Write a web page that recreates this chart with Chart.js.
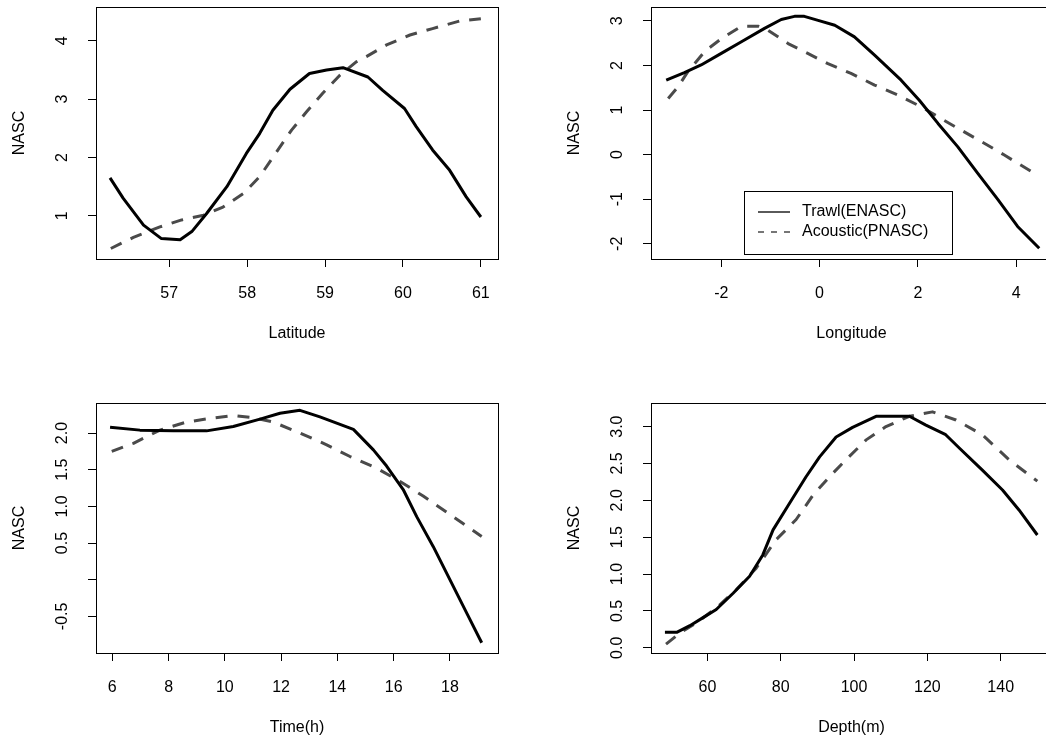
<!DOCTYPE html>
<html>
<head>
<meta charset="utf-8">
<script src="https://cdn.jsdelivr.net/npm/chart.js@4/dist/chart.umd.min.js"></script>
<style>
  html, body { margin:0; padding:0; background:#fff; overflow:hidden; }
  #wrap { position:relative; width:1046px; height:742px; overflow:hidden; }
  canvas { position:absolute; }
</style>
</head>
<body>
<div id="wrap">
  <canvas id="p1" width="523" height="371" style="left:0;top:0"></canvas>
  <canvas id="p2" width="555" height="371" style="left:523px;top:0"></canvas>
  <canvas id="p3" width="523" height="371" style="left:0;top:371px"></canvas>
  <canvas id="p4" width="555" height="371" style="left:523px;top:371px"></canvas>
</div>
<script>
/* ---- values ---- */
const seriesNames = ['Trawl(ENASC)', 'Acoustic(PNASC)'];

// Latitude panel
const latTrawlX = [56.24,56.41,56.67,56.90,57.14,57.29,57.48,57.74,57.99,58.16,58.33,58.55,58.80,59.02,59.23,59.55,59.74,60.02,60.17,60.38,60.60,60.81,61.00];
const latTrawlY = [1.65,1.30,0.84,0.61,0.59,0.73,1.04,1.50,2.07,2.41,2.81,3.17,3.44,3.50,3.54,3.38,3.15,2.84,2.53,2.13,1.78,1.33,0.98];
const latAcousX = [56.25,56.54,56.88,57.16,57.44,57.69,57.95,58.16,58.38,58.57,58.76,58.97,59.19,59.40,59.53,59.79,60.09,60.38,60.73,61.00];
const latAcousY = [0.44,0.63,0.81,0.93,1.01,1.15,1.38,1.67,2.10,2.47,2.78,3.10,3.41,3.64,3.73,3.93,4.10,4.21,4.34,4.38];
const latTicks = [57,58,59,60,61];
const latYTicks = [1,2,3,4];
const latYLabels = ['1','2','3','4'];

// Longitude panel
const lonTrawlX = [-3.12,-2.75,-2.41,-2.00,-1.59,-1.12,-0.78,-0.51,-0.31,-0.03,0.31,0.71,1.12,1.66,2.03,2.41,2.81,3.22,3.63,4.03,4.47];
const lonTrawlY = [1.67,1.84,2.01,2.27,2.53,2.83,3.03,3.10,3.10,3.01,2.90,2.64,2.23,1.67,1.22,0.70,0.18,-0.42,-1.01,-1.61,-2.10];
const lonAcousX = [-3.08,-2.88,-2.68,-2.34,-2.00,-1.59,-1.25,-1.05,-0.64,-0.24,0.17,0.64,1.12,1.59,2.07,2.47,2.88,3.36,3.76,4.37];
const lonAcousY = [1.26,1.52,1.86,2.31,2.60,2.88,2.88,2.79,2.49,2.27,2.04,1.82,1.56,1.34,1.07,0.81,0.55,0.25,-0.01,-0.42];
const lonTicks = [-2,0,2,4];
const lonYTicks = [-2,-1,0,1,2,3];
const lonYLabels = ['-2','-1','0','1','2','3'];

// Time panel
const timeTrawlX = [5.92,6.98,8.17,9.35,10.30,11.25,11.96,12.67,13.38,14.57,15.28,15.75,16.34,16.82,17.41,18.00,18.59,19.13];
const timeTrawlY = [2.08,2.04,2.03,2.03,2.09,2.19,2.27,2.31,2.22,2.05,1.77,1.55,1.23,0.86,0.45,0.00,-0.45,-0.86];
const timeAcousX = [5.98,6.75,7.69,8.64,9.47,10.30,11.01,11.72,12.67,13.62,14.45,15.40,16.23,17.05,18.00,19.13];
const timeAcousY = [1.75,1.86,2.04,2.15,2.20,2.24,2.21,2.15,2.00,1.84,1.68,1.52,1.34,1.14,0.89,0.59];
const timeTicks = [6,8,10,12,14,16,18];
const timeYTicks = [-0.5,0,0.5,1,1.5,2];
const timeYLabels = ['-0.5','','0.5','1.0','1.5','2.0'];

// Depth panel
const depthTrawlX = [48.4,51.6,55.2,58.8,62.4,67.0,71.5,75.1,77.9,82.4,86.9,90.6,95.1,99.6,106.0,115.1,119.6,125.0,128.7,135.0,140.5,145.0,150.0];
const depthTrawlY = [0.21,0.21,0.30,0.41,0.52,0.74,0.97,1.26,1.60,1.96,2.32,2.59,2.86,2.99,3.14,3.14,3.02,2.89,2.71,2.41,2.14,1.87,1.53];
const depthAcousX = [48.7,52.5,57.0,62.4,67.9,73.3,78.8,84.2,88.8,93.3,97.8,103.3,108.7,115.1,121.4,127.8,135.0,142.3,150.0];
const depthAcousY = [0.05,0.20,0.34,0.54,0.79,1.08,1.47,1.74,2.07,2.32,2.55,2.82,3.00,3.14,3.20,3.09,2.89,2.55,2.26];
const depthTicks = [60,80,100,120,140];
const depthYTicks = [0,0.5,1,1.5,2,2.5,3];
const depthYLabels = ['0.0','0.5','1.0','1.5','2.0','2.5','3.0'];

/* ---- drawing ---- */
const FAMILY = "'Liberation Sans', Arial, sans-serif";
const font = { family: FAMILY, size: 16 };
const mctx = document.createElement('canvas').getContext('2d');
mctx.font = '16px ' + FAMILY;
const measure = t => mctx.measureText(t).width;
const pts = (xs, ys) => xs.map((x, i) => ({ x, y: ys[i] }));

// box round the plot region, like R's bty="o"
const frame = {
  id: 'frame',
  afterDatasetsDraw(chart) {
    const a = chart.chartArea, c = chart.ctx;
    c.save();
    c.strokeStyle = '#000'; c.lineWidth = 1;
    c.strokeRect(Math.round(a.left) + 0.5, Math.round(a.top) + 0.5, Math.round(a.right - a.left), Math.round(a.bottom - a.top));
    c.restore();
  }
};

// legend inside the longitude panel
const rLegend = {
  id: 'rLegend',
  afterDraw(chart) {
    const a = chart.chartArea, c = chart.ctx;
    const w = 208, h = 63, L = Math.round(a.left) + 93, T = Math.round(a.bottom) - 68;
    c.save();
    c.fillStyle = '#fff'; c.fillRect(L, T, w, h);
    c.strokeStyle = '#000'; c.lineWidth = 1; c.strokeRect(L + 0.5, T + 0.5, w, h);
    chart.data.datasets.forEach((d, i) => {
      const y = T + 21 + i * 20;
      c.beginPath();
      c.setLineDash(i ? [6, 7] : []);
      c.strokeStyle = d.borderColor; c.lineWidth = 1.3;
      c.moveTo(L + 14, y); c.lineTo(L + 46, y); c.stroke();
      c.setLineDash([]);
      c.fillStyle = '#000'; c.font = '16px ' + FAMILY; c.textBaseline = 'middle';
      c.fillText(d.label, L + 58, y);
    });
    c.restore();
  }
};

function panel(id, o) {
  const widest = Math.max(...o.yLabels.map(measure));
  return new Chart(document.getElementById(id), {
    type: 'line',
    data: { datasets: [
      { label: seriesNames[0], data: pts(o.tx, o.ty), borderColor: '#000', borderWidth: 3,
        pointRadius: 0, tension: 0, fill: false, borderJoinStyle: 'round' },
      { label: seriesNames[1], data: pts(o.ax, o.ay), borderColor: '#4a4a4a', borderWidth: 3,
        borderDash: [12, 10], pointRadius: 0, tension: 0, fill: false, borderJoinStyle: 'round' }
    ]},
    options: {
      responsive: false, animation: false, events: [],
      layout: { padding: o.pad },
      plugins: { legend: { display: false }, tooltip: { enabled: false } },
      scales: {
        x: {
          type: 'linear', min: o.xmin, max: o.xmax,
          afterBuildTicks: s => { s.ticks = o.xTicks.map(v => ({ value: v })); },
          afterFit: s => { s.height = 85; s.paddingLeft = 0; s.paddingRight = 0; },
          ticks: { autoSkip: false, maxRotation: 0, padding: 17, color: '#000', font, callback: v => String(v) },
          grid: { drawOnChartArea: false, tickLength: 8, color: '#000', lineWidth: 1 },
          border: { display: true, color: '#000', width: 1 },
          title: { display: true, text: o.xTitle, color: '#000', font, padding: { top: 0, bottom: 1 } }
        },
        y: {
          type: 'linear', min: o.ymin, max: o.ymax,
          afterBuildTicks: s => { s.ticks = o.yTicks.map(v => ({ value: v })); },
          afterFit: s => { s.width = 96; s.paddingTop = 0; s.paddingBottom = 0; },
          ticks: { autoSkip: false, minRotation: 90, maxRotation: 90, crossAlign: 'center',
                   padding: 33 - 8 - widest / 2, color: '#000', font, callback: (v, i) => o.yLabels[i] },
          grid: { drawOnChartArea: false, tickLength: 8, color: '#000', lineWidth: 1 },
          border: { display: true, color: '#000', width: 1 },
          title: { display: true, text: 'NASC', color: '#000', font, padding: { top: 9.9, bottom: 0 } }
        }
      }
    },
    plugins: [frame].concat(o.extra || [])
  });
}

panel('p1', { tx: latTrawlX, ty: latTrawlY, ax: latAcousX, ay: latAcousY,
  xmin: 56.06, xmax: 61.22, ymin: 0.26, ymax: 4.58, xTicks: latTicks, yTicks: latYTicks, yLabels: latYLabels,
  xTitle: 'Latitude', pad: { left: 0, top: 7, right: 25, bottom: 27 } });
panel('p2', { tx: lonTrawlX, ty: lonTrawlY, ax: lonAcousX, ay: lonAcousY,
  xmin: -3.43, xmax: 4.73, ymin: -2.34, ymax: 3.31, xTicks: lonTicks, yTicks: lonYTicks, yLabels: lonYLabels,
  xTitle: 'Longitude', pad: { left: 32, top: 7, right: 26, bottom: 27 }, extra: [rLegend] });
panel('p3', { tx: timeTrawlX, ty: timeTrawlY, ax: timeAcousX, ay: timeAcousY,
  xmin: 5.42, xmax: 19.71, ymin: -1.0, ymax: 2.41, xTicks: timeTicks, yTicks: timeYTicks, yLabels: timeYLabels,
  xTitle: 'Time(h)', pad: { left: 0, top: 32, right: 25, bottom: 4 } });
panel('p4', { tx: depthTrawlX, ty: depthTrawlY, ax: depthAcousX, ay: depthAcousY,
  xmin: 44.6, xmax: 154.0, ymin: -0.07, ymax: 3.32, xTicks: depthTicks, yTicks: depthYTicks, yLabels: depthYLabels,
  xTitle: 'Depth(m)', pad: { left: 32, top: 32, right: 26, bottom: 4 } });
</script>
</body>
</html>
